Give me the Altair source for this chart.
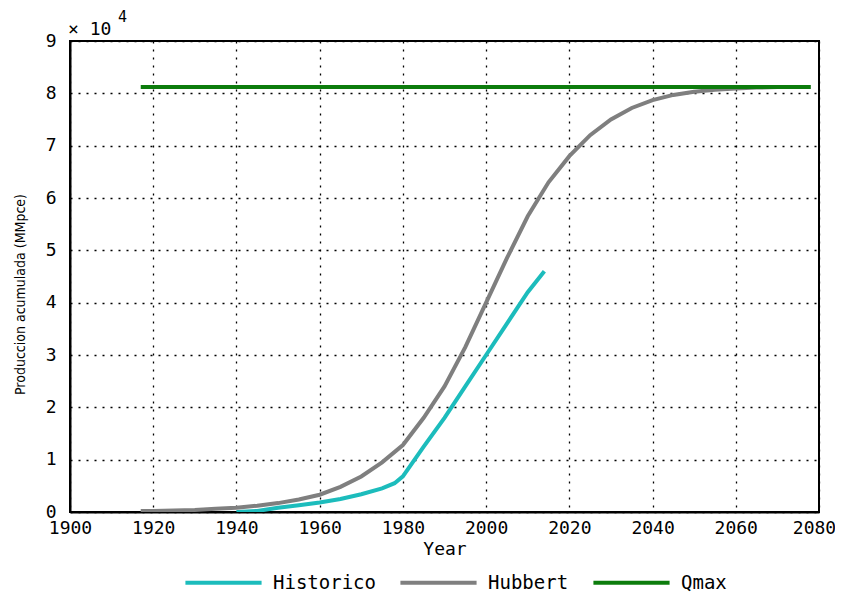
import altair as alt
import pandas as pd

# Hubbert curve (cumulative production, MMpce)
hub_years = [1917, 1920, 1925, 1930, 1935, 1940, 1945, 1950, 1955, 1960, 1965, 1970, 1975,
             1980, 1985, 1990, 1995, 2000, 2005, 2010, 2015, 2020, 2025, 2030, 2035, 2040,
             2045, 2050, 2055, 2060, 2065, 2070, 2078]
hub_vals = [200, 200, 300, 400, 600, 800, 1200, 1700, 2400, 3300, 4800, 6800, 9500,
            12800, 18000, 24000, 31500, 40000, 48500, 56500, 63000, 68000, 72000, 75000,
            77200, 78700, 79700, 80300, 80700, 80900, 81100, 81200, 81200]

# Historical cumulative production
his_years = [1940, 1945, 1950, 1955, 1960, 1965, 1970, 1975, 1978, 1980, 1985, 1990,
             1995, 2000, 2005, 2010, 2014]
his_vals = [0, 200, 800, 1300, 1800, 2500, 3400, 4500, 5500, 6800, 12500, 18000,
            24000, 30000, 36000, 42000, 46000]

# Qmax
q_years = [1917, 2078]
q_vals = [81200, 81200]

series = ["Historico", "Hubbert", "Qmax"]
colors = ["#1cbcbc", "#7f7f7f", "#0c7c0c"]

rows = []
for y, v in zip(his_years, his_vals):
    rows.append({"year": y, "q": v, "serie": "Historico"})
for y, v in zip(hub_years, hub_vals):
    rows.append({"year": y, "q": v, "serie": "Hubbert"})
for y, v in zip(q_years, q_vals):
    rows.append({"year": y, "q": v, "serie": "Qmax"})
df = pd.DataFrame(rows)

FONT = "DejaVu Sans Mono"

lines = alt.Chart(df).mark_line(strokeWidth=4, clip=True).encode(
    x=alt.X("year:Q", scale=alt.Scale(domain=[1900, 2080], nice=False),
            axis=alt.Axis(values=list(range(1900, 2081, 20)), format="d", title="Year",
                          grid=True, gridColor="#000000", gridDash=[2, 6], gridWidth=1.3,
                          domainColor="#000000", domainWidth=2, tickColor="#000000",
                          tickSize=0, labelPadding=7, labelFontSize=18, labelFont=FONT,
                          labelFlush=False, labelOverlap=False,
                          labelOffset={"condition": {"test": "datum.value == 2080", "value": -5},
                                       "value": 0},
                          labelColor="#000000", titleFont=FONT, titleFontSize=18,
                          titleFontWeight="normal", titleColor="#000000", titlePadding=3)),
    y=alt.Y("q:Q", scale=alt.Scale(domain=[0, 90000], nice=False),
            axis=alt.Axis(values=list(range(0, 90001, 10000)),
                          labelExpr="format(datum.value/10000, 'd')",
                          title="Produccion acumulada (MMpce)",
                          grid=True, gridColor="#000000", gridDash=[2, 6], gridWidth=1.3,
                          domainColor="#000000", domainWidth=2, tickSize=0,
                          labelPadding=14, labelFontSize=18, labelFont=FONT,
                          labelFlush=False, labelOverlap=False,
                          labelColor="#000000", titleFont="DejaVu Sans Condensed",
                          titleFontSize=14, titleFontWeight="normal", titleColor="#000000",
                          titlePadding=18, titleY=253)),
    color=alt.Color("serie:N", scale=alt.Scale(domain=series, range=colors),
                    legend=alt.Legend(orient="none", legendX=111, legendY=499,
                                      direction="horizontal", title=None,
                                      symbolType="stroke", symbolSize=5800,
                                      symbolStrokeWidth=4, labelFont=FONT,
                                      labelFontSize=19, labelColor="#000000",
                                      columnPadding=16, labelOffset=9, padding=2)),
)

exp_text = alt.Chart(pd.DataFrame({"t": ["× 10"]})).mark_text(
    align="left", baseline="alphabetic", font=FONT, fontSize=18, color="#000000"
).encode(x=alt.value(-2), y=alt.value(-6), text="t:N")

sup_text = alt.Chart(pd.DataFrame({"t": ["4"]})).mark_text(
    align="left", baseline="alphabetic", font=FONT, fontSize=15, color="#000000"
).encode(x=alt.value(48), y=alt.value(-19), text="t:N")

chart = alt.layer(lines, exp_text, sup_text).properties(
    width=749, height=471,
    autosize=alt.AutoSizeParams(type="none"),
    padding={"left": 62, "top": 33, "right": 16, "bottom": 90},
).configure_view(stroke="#000000", strokeWidth=2)

chart.save("out.html", embed_options={"renderer": "svg", "actions": False})
